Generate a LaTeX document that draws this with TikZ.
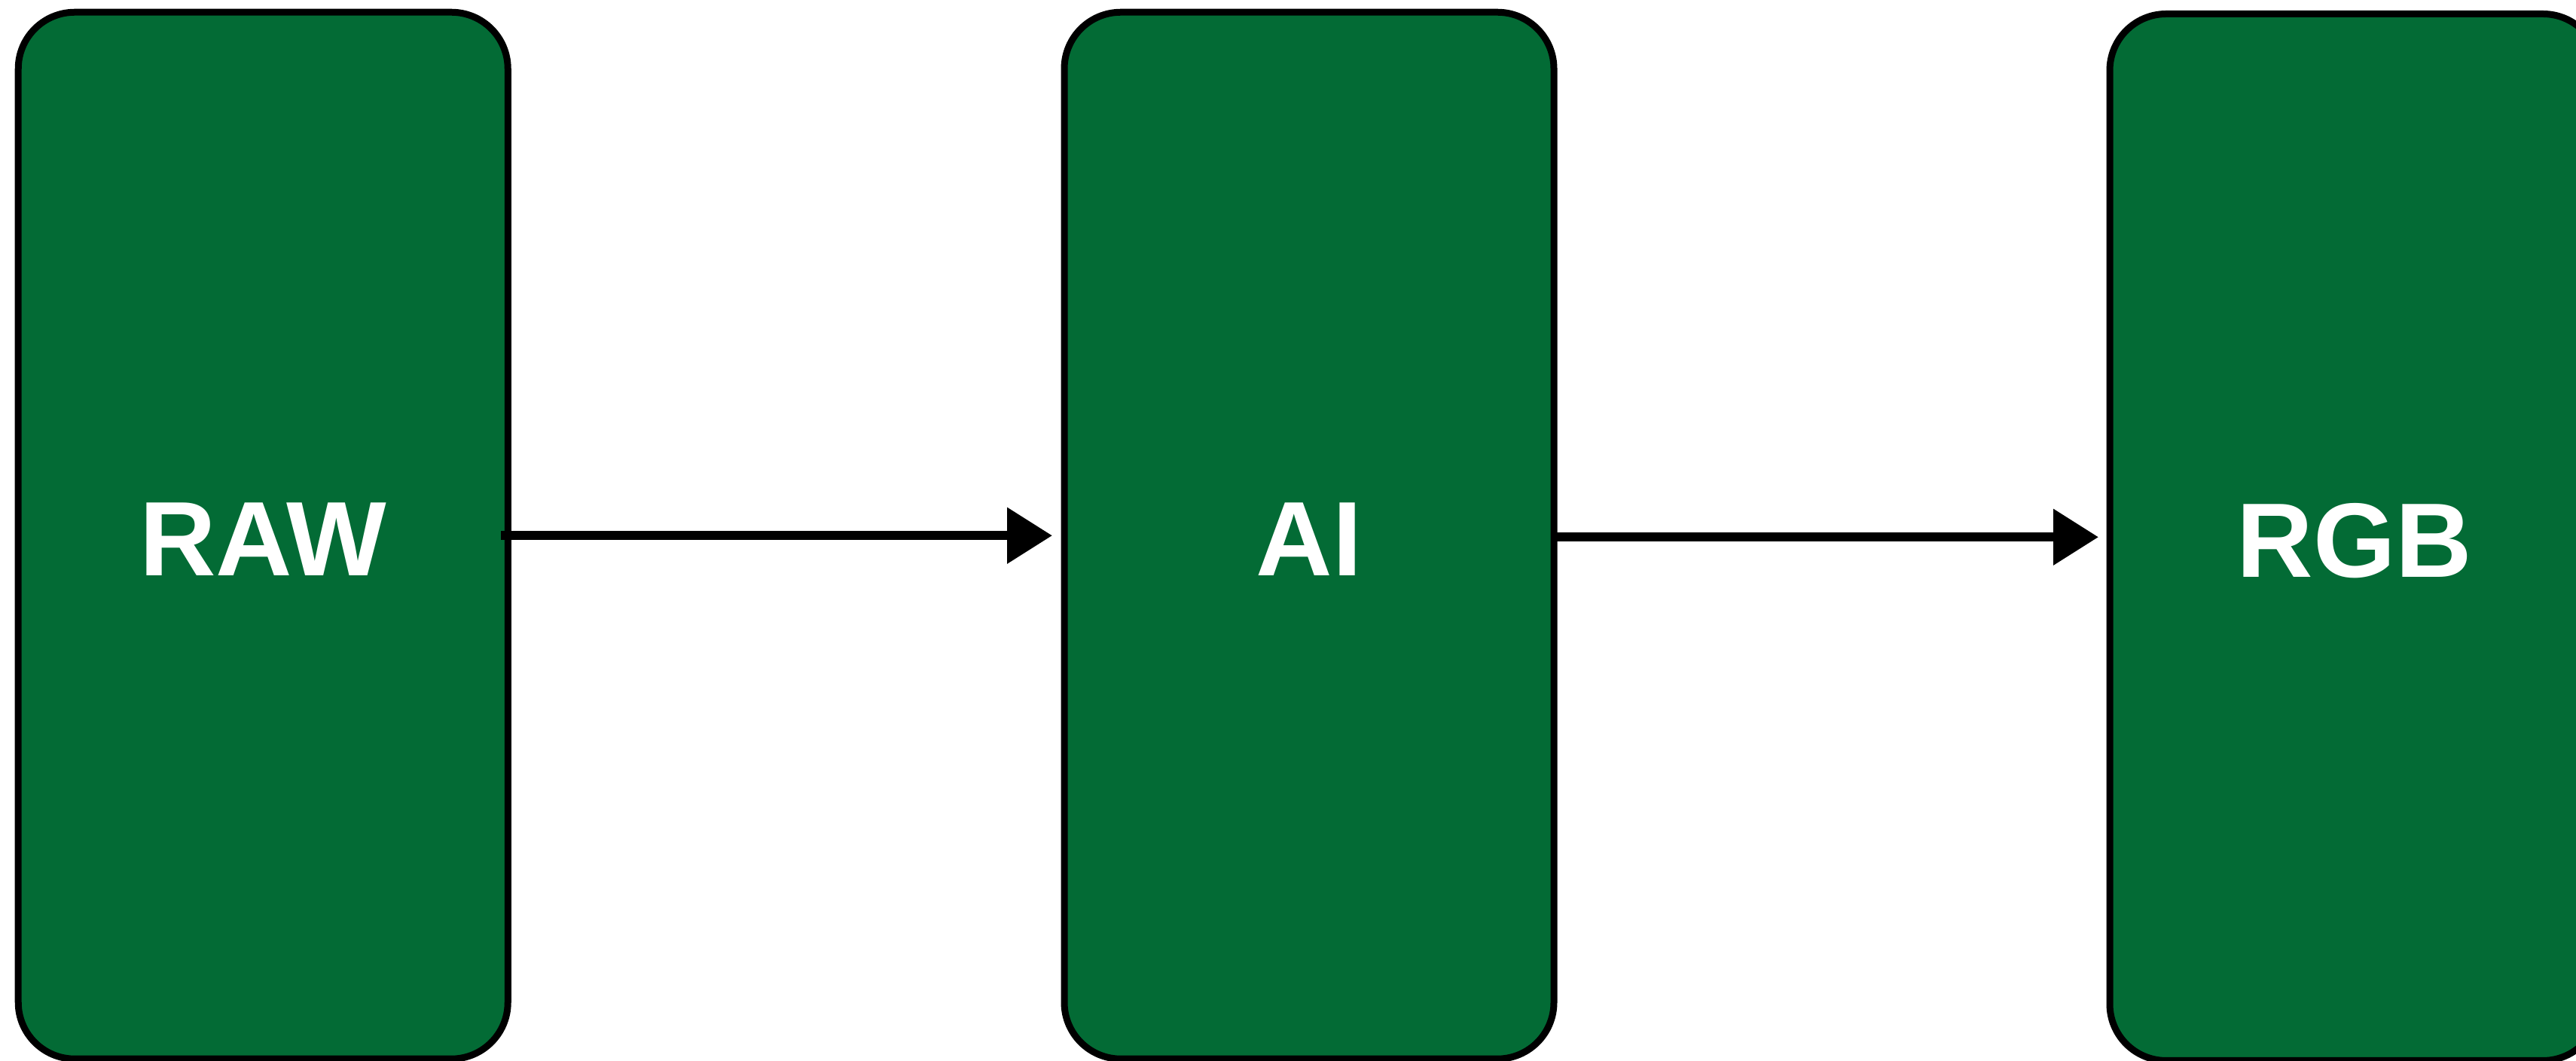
\documentclass[tikz,border=0pt]{standalone}
\usepackage{fontspec}
\setmainfont{Liberation Sans}
\usetikzlibrary{arrows.meta}

\definecolor{boxgreen}{HTML}{036B35}

\tikzset{
  stage/.style={
    draw=black, line width=0.09cm, fill=boxgreen,
    rectangle, rounded corners=0.75cm,
    minimum width=6.5cm, minimum height=13.9cm,
    inner sep=0pt, outer sep=0pt,
    text=white, text height=1.07cm, text depth=0pt,
    font=\bfseries\fontsize{40}{48}\selectfont
  },
  flow/.style={
    draw=black, line width=0.12cm,
    -{Triangle[length=0.6cm, width=0.72cm]}
  }
}

\begin{document}
\begin{tikzpicture}
  \useasboundingbox (0,0) rectangle (34.2,14.09);

  % processing stages
  \node[stage] (raw) at (3.4925,6.9775) {RAW};
  \node[stage] (ai)  at (17.38,6.9775) {AI};
  \node[stage] (rgb) at (31.26,6.955) {RGB};

  % data flow between stages
  \coordinate (aiout) at ([xshift=0.04cm,yshift=-0.02cm]ai.east);
  \draw[flow] ([xshift=-0.09cm]raw.east) -- ([xshift=-0.16cm]ai.west);
  \draw[flow] (aiout) -- ([xshift=-0.15cm]rgb.west |- aiout);
\end{tikzpicture}
\end{document}
